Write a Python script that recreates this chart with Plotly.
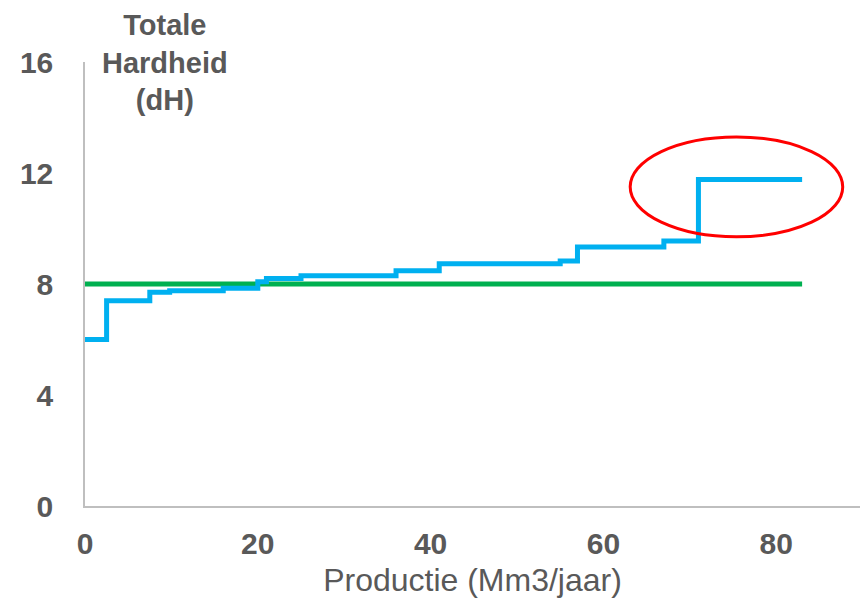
import plotly.graph_objects as go

# Data
production = [0, 2.5, 7.5, 9.8, 16, 20, 21, 25, 36, 41, 55, 57, 67, 71, 83]
hardness = [6.0, 7.4, 7.7, 7.76, 7.85, 8.08, 8.2, 8.3, 8.48, 8.73, 8.83, 9.33, 9.55, 11.77, 11.77]
norm_x = [0, 83]
norm_y = [8, 8]
x_ticks = [0, 20, 40, 60, 80]
y_ticks = [0, 4, 8, 12, 16]
ellipse_x = [63.1, 87.7]
ellipse_y = [9.7, 13.3]

FONT = "Liberation Sans"
GREY = "#595959"

fig = go.Figure()
fig.add_trace(go.Scatter(x=norm_x, y=norm_y, mode="lines",
                         line=dict(color="#00B050", width=5), showlegend=False))
fig.add_trace(go.Scatter(x=production, y=hardness, mode="lines", line_shape="hv",
                         line=dict(color="#00B0F0", width=5), showlegend=False))

fig.add_shape(type="circle", xref="x", yref="y",
              x0=ellipse_x[0], x1=ellipse_x[1], y0=ellipse_y[0], y1=ellipse_y[1],
              line=dict(color="#FF0000", width=3))

fig.add_annotation(text="Totale<br>Hardheid<br>(dH)", xref="paper", yref="paper",
                   x=0.103, y=1.0, xanchor="center", yanchor="middle", showarrow=False,
                   font=dict(family=FONT, size=29, color=GREY, weight="bold"), align="center")

fig.update_layout(
    width=868, height=606,
    margin=dict(l=77, r=16, t=54, b=108, autoexpand=False),
    plot_bgcolor="white", paper_bgcolor="white",
    font=dict(family=FONT, color=GREY),
)
fig.update_xaxes(range=[0, 89.7], tickvals=x_ticks, showgrid=False, zeroline=False,
                 showline=True, linecolor="#BFBFBF", linewidth=1.5, ticks="",
                 ticklabelstandoff=10,
                 tickfont=dict(family=FONT, size=30, color=GREY, weight="bold"),
                 title=dict(text="Productie (Mm3/jaar)", font=dict(family=FONT, size=32, color=GREY),
                            standoff=10))
fig.update_yaxes(range=[0, 16], tickvals=y_ticks, showgrid=False, zeroline=False,
                 showline=True, linecolor="#BFBFBF", linewidth=1.5, ticks="",
                 ticklabelstandoff=24,
                 tickfont=dict(family=FONT, size=30, color=GREY, weight="bold"))

fig.write_html("out.html")
